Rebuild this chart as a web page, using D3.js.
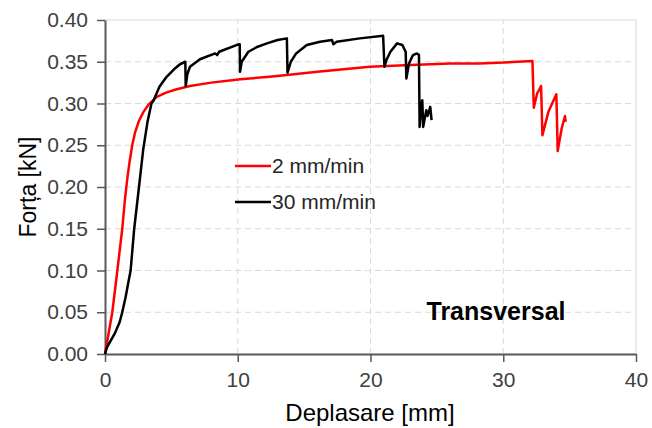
<!DOCTYPE html>
<html><head><meta charset="utf-8">
<script src="https://cdn.jsdelivr.net/npm/d3@7"></script>
<style>body{margin:0;background:#fff;}svg{display:block;}</style>
</head><body>
<script>
const xTicks = [0, 10, 20, 30, 40];
const yTicks = [0, 0.05, 0.10, 0.15, 0.20, 0.25, 0.30, 0.35, 0.40];
const seriesNames = ["2 mm/min", "30 mm/min"];
const seriesColors = ["#ff0000", "#000000"];
const redX = [0,0.55,0.93,1.3,1.5,1.68,1.85,2.05,2.26,2.55,2.9,3.3,3.9,4.6,5.4,6.4,8.0,10.2,12.4,13.7,16,19.95,23,26,28.2,30,32.2,32.3,32.55,32.7,32.85,32.95,33.4,34.0,34.1,34.4,34.65,34.7];
const redY = [0,0.05,0.10,0.15,0.185,0.21,0.23,0.25,0.265,0.279,0.290,0.299,0.308,0.313,0.317,0.321,0.325,0.329,0.332,0.334,0.338,0.344,0.346,0.348,0.348,0.349,0.351,0.295,0.312,0.316,0.321,0.262,0.290,0.311,0.243,0.270,0.285,0.278];
const blackX = [0,0.15,0.4,0.75,1.1,1.3,1.55,1.75,1.93,2.2,2.56,2.88,3.2,3.5,3.64,4.1,4.64,5.2,5.65,6.05,6.08,6.2,6.4,7.15,8.3,8.45,8.6,9.9,10.15,10.17,10.3,10.8,11.5,12.2,13.0,13.7,13.75,14.0,14.4,15.2,16.2,17.1,17.2,17.45,19.2,20.95,21.05,21.2,21.5,22.0,22.4,22.65,22.7,22.9,23.2,23.5,23.65,23.7,23.85,23.9,23.97,24.2,24.3,24.5,24.6];
const blackY = [0,0.008,0.015,0.025,0.038,0.05,0.068,0.085,0.10,0.15,0.20,0.245,0.278,0.300,0.303,0.32,0.332,0.341,0.347,0.350,0.321,0.335,0.344,0.353,0.360,0.358,0.362,0.370,0.371,0.338,0.350,0.362,0.368,0.372,0.376,0.378,0.337,0.350,0.360,0.370,0.374,0.376,0.371,0.374,0.378,0.381,0.344,0.352,0.362,0.372,0.370,0.362,0.330,0.348,0.358,0.360,0.358,0.272,0.300,0.304,0.272,0.292,0.285,0.296,0.280];
const annotation = "Transversal";

const W = 652, H = 428;
const m = {left:105, right:16, top:20, bottom:74};
const svg = d3.select("body").append("svg").attr("width", W).attr("height", H);
const x = d3.scaleLinear().domain([0,40]).range([m.left, W - m.right]);
const y = d3.scaleLinear().domain([0,0.40]).range([H - m.bottom, m.top]);
const font = "Liberation Sans, Arial, sans-serif";

// grid
const g = svg.append("g");
g.selectAll(".hg").data(yTicks.filter(d => d > 0 && d < 0.40)).enter().append("line")
  .attr("x1", x(0)).attr("x2", x(40)).attr("y1", d => y(d)).attr("y2", d => y(d))
  .attr("stroke", "#d9d9d9").attr("stroke-width", 1).attr("stroke-dasharray", "6,4");
g.selectAll(".vg").data(xTicks.filter(d => d > 0 && d < 40)).enter().append("line")
  .attr("y1", y(0)).attr("y2", y(0.40)).attr("x1", d => x(d)).attr("x2", d => x(d))
  .attr("stroke", "#d9d9d9").attr("stroke-width", 1).attr("stroke-dasharray", "6,4");
g.append("line").attr("x1", x(0)).attr("x2", x(40)).attr("y1", y(0.40)).attr("y2", y(0.40)).attr("stroke", "#d9d9d9");
g.append("line").attr("x1", x(40)).attr("x2", x(40)).attr("y1", y(0.40)).attr("y2", y(0)).attr("stroke", "#d9d9d9");

// axes
const xAxis = svg.append("g").attr("transform", `translate(0,${y(0)})`)
  .call(d3.axisBottom(x).tickValues(xTicks).tickFormat(d3.format("d")).tickSizeInner(8).tickSizeOuter(0).tickPadding(10));
const yAxis = svg.append("g").attr("transform", `translate(${x(0)},0)`)
  .call(d3.axisLeft(y).tickValues(yTicks).tickFormat(d3.format(".2f")).tickSizeInner(8).tickSizeOuter(0).tickPadding(9));
[xAxis, yAxis].forEach(a => {
  a.select(".domain").attr("stroke", "#595959").attr("stroke-width", 2);
  a.selectAll(".tick line").attr("stroke", "#595959").attr("stroke-width", 1.5);
  a.selectAll("text").attr("fill", "#404040").style("font-family", font).style("font-size", "21px");
});

// lines
const line = d3.line().x(d => x(d[0])).y(d => y(d[1]));
const redData = redX.map((v,i) => [v, redY[i]]);
const blackData = blackX.map((v,i) => [v, blackY[i]]);
svg.append("path").datum(redData).attr("d", line).attr("fill", "none").attr("stroke", seriesColors[0]).attr("stroke-width", 2.5).attr("stroke-linejoin", "round");
svg.append("path").datum(blackData).attr("d", line).attr("fill", "none").attr("stroke", seriesColors[1]).attr("stroke-width", 2.5).attr("stroke-linejoin", "round");

// legend
seriesNames.forEach((n, i) => {
  const yy = 166 + i * 36;
  svg.append("line").attr("x1", 235).attr("x2", 271).attr("y1", yy).attr("y2", yy).attr("stroke", seriesColors[i]).attr("stroke-width", 2.5);
  svg.append("text").attr("x", 272).attr("y", yy + 7).text(n).attr("fill", "#262626").style("font-family", font).style("font-size", "21px");
});

// annotation
svg.append("text").attr("x", 496).attr("y", 320).attr("text-anchor", "middle").text(annotation)
  .attr("fill", "#000").style("font-family", font).style("font-size", "25px").style("font-weight", "bold");

// axis titles
svg.append("text").attr("x", 370).attr("y", 421).attr("text-anchor", "middle").text("Deplasare [mm]")
  .attr("fill", "#000").style("font-family", font).style("font-size", "24px");
svg.append("text").attr("transform", `translate(36,187) rotate(-90)`).attr("text-anchor", "middle").text("Forța [kN]")
  .attr("fill", "#000").style("font-family", font).style("font-size", "23px");
</script>
</body></html>
